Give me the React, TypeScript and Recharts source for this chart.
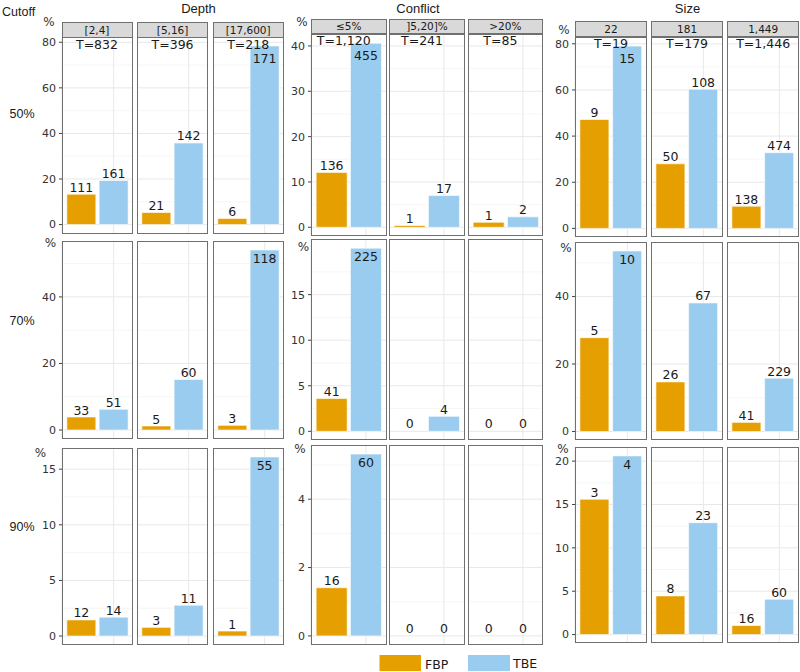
import React from 'react';
import { BarChart, Bar, XAxis, YAxis, CartesianGrid, Cell, LabelList } from 'recharts';

// ---------- data ----------
const methods = ['FBP', 'TBE'];
const cutoffs = ['50%', '70%', '90%'];

const depthFacets = ['[2,4]', '[5,16]', '[17,600]'];
const depthTotals = ['T=832', 'T=396', 'T=218'];
const depthFbpPct = [[13.3, 5.3, 2.7], [3.9, 1.2, 1.4], [1.45, 0.78, 0.45]];
const depthTbePct = [[19.35, 35.8, 78.4], [6.2, 15.2, 54.1], [1.7, 2.77, 16.1]];
const depthFbpN = [[111, 21, 6], [33, 5, 3], [12, 3, 1]];
const depthTbeN = [[161, 142, 171], [51, 60, 118], [14, 11, 55]];
const depthTicks = [[0, 20, 40, 60, 80], [0, 20, 40], [0, 5, 10, 15]];

const conflictFacets = ['≤5%', ']5,20]%', '>20%'];
const conflictTotals = ['T=1,120', 'T=241', 'T=85'];
const conflictFbpPct = [[12.1, 0.41, 1.1], [3.6, 0, 0], [1.41, 0, 0]];
const conflictTbePct = [[40.6, 7.0, 2.3], [20.1, 1.65, 0], [5.32, 0, 0]];
const conflictFbpN = [[136, 1, 1], [41, 0, 0], [16, 0, 0]];
const conflictTbeN = [[455, 17, 2], [225, 4, 0], [60, 0, 0]];
const conflictTicks = [[0, 10, 20, 30, 40], [0, 5, 10, 15], [0, 2, 4]];

const sizeFacets = ['22', '181', '1,449'];
const sizeTotals = ['T=19', 'T=179', 'T=1,446'];
const sizeFbpPct = [[47.2, 28.0, 9.6], [27.8, 14.7, 2.7], [15.6, 4.46, 1.04]];
const sizeTbePct = [[79.0, 60.3, 32.8], [53.5, 38.1, 15.8], [20.6, 12.9, 4.07]];
const sizeFbpN = [[9, 50, 138], [5, 26, 41], [3, 8, 16]];
const sizeTbeN = [[15, 108, 474], [10, 67, 229], [4, 23, 60]];
const sizeTicks = [[0, 20, 40, 60, 80], [0, 20, 40], [0, 5, 10, 15, 20]];

const groups = [
  { title: 'Depth', facets: depthFacets, totals: depthTotals, fbpPct: depthFbpPct, tbePct: depthTbePct, fbpN: depthFbpN, tbeN: depthTbeN, ticks: depthTicks },
  { title: 'Conflict', facets: conflictFacets, totals: conflictTotals, fbpPct: conflictFbpPct, tbePct: conflictTbePct, fbpN: conflictFbpN, tbeN: conflictTbeN, ticks: conflictTicks },
  { title: 'Size', facets: sizeFacets, totals: sizeTotals, fbpPct: sizeFbpPct, tbePct: sizeTbePct, fbpN: sizeFbpN, tbeN: sizeTbeN, ticks: sizeTicks },
];

// ---------- layout / style ----------
const FBP_COLOR = '#E69F00';
const TBE_COLOR = '#99CCEE';
const colors: Record<string, string> = { FBP: FBP_COLOR, TBE: TBE_COLOR };
const SANS = '"DejaVu Sans", sans-serif';
const TITLE = '"Liberation Sans", Arial, sans-serif';

const layouts = [
  { left: 61.5, step: 75.6, width: 71, strip: [21.7, 37], rows: [[37, 233.5], [241, 439], [448, 645]], pct: [[49, 21], [50.5, 242], [40.5, 452]], titleX: 198.5, tShift: 0 },
  { left: 311, step: 78.3, width: 75.5, strip: [19.3, 33.5], rows: [[33.5, 236], [238.5, 440], [445, 645]], pct: [[302, 21], [303.5, 246.7], [300, 448]], titleX: 418, tShift: -5 },
  { left: 575, step: 76.1, width: 72, strip: [21.3, 36.5], rows: [[36.5, 237], [241.5, 440], [446.5, 643]], pct: [[564, 29], [566, 247], [563, 448]], titleX: 687.5, tShift: 0 },
];

const AXIS_W = 40;

function minorOf(ticks: number[], top: number) {
  const out: number[] = [];
  const d = ticks[1] - ticks[0];
  for (let i = 0; i < ticks.length; i++) {
    const m = ticks[i] + d / 2;
    if (m < top) out.push(m);
  }
  return out;
}

function Panel(props: any) {
  const { left, top, width, height, fbp, tbe, fbpN, tbeN, max, ticks, showAxis, total, row, tShift } = props;
  const data = [
    { m: methods[0], v: fbp, n: fbpN },
    { m: methods[1], v: tbe, n: tbeN },
  ];
  const domain = [-0.05 * max, 1.05 * max];
  const minor = minorOf(ticks, domain[1]);
  const axisW = showAxis ? AXIS_W : 0;
  const pad = width * 0.2 / 2.2 / 2;
  const insideY = row === 0 ? 26 : 22;
  const renderLabel = (p: any) => {
    const vb = p.viewBox && p.viewBox.width !== undefined ? p.viewBox : p;
    const idx = p.index;
    const d = data[idx];
    if (!d) return null;
    const x = vb.x + vb.width / 2;
    const h = vb.height || 0;
    const yTop = h >= 0 ? vb.y : vb.y + h;
    const inside = d.v >= 0.95 * max;
    const y = inside ? insideY : yTop - 2.5;
    return (
      <text key={'l' + idx} x={x} y={y} textAnchor="middle" fontSize={12.5} fontFamily={SANS} fill="#1a1a1a">
        {d.n}
      </text>
    );
  };
  return (
    <>
      <div style={{ position: 'absolute', left: left - axisW, top, width: width + axisW, height }}>
        <BarChart width={width + axisW} height={height} data={data} margin={{ top: 0, right: 0, bottom: 0, left: 0 }} barCategoryGap="5%">
          <CartesianGrid horizontalValues={minor} vertical={false} stroke="#f0f0f0" strokeWidth={0.6} />
          <CartesianGrid horizontalValues={ticks} stroke="#e8e8e8" strokeWidth={1} />
          <XAxis dataKey="m" type="category" hide padding={{ left: pad, right: pad }} />
          <YAxis
            type="number"
            domain={domain}
            ticks={ticks}
            allowDataOverflow
            interval={0}
            hide={!showAxis}
            width={axisW}
            axisLine={false}
            tickSize={3}
            tickMargin={3}
            tickLine={{ stroke: '#444' }}
            tick={{ fill: '#333', fontSize: 11, fontFamily: SANS }}
          />
          <Bar dataKey="v" isAnimationActive={false} stroke="#ffffff" strokeWidth={0.6} minPointSize={0.5}>
            {data.map((d) => (
              <Cell key={d.m} fill={d.v === 0 ? 'none' : colors[d.m]} stroke={d.v === 0 ? 'none' : '#ffffff'} />
            ))}
            <LabelList dataKey="n" content={renderLabel} />
          </Bar>
        </BarChart>
      </div>
      <div style={{ position: 'absolute', left, top, width, height, border: '1px solid #707070', boxSizing: 'border-box', pointerEvents: 'none' }} />
      {total ? (
        <div style={{ position: 'absolute', left: left + tShift, top: top + 0.5, width, textAlign: 'center', fontFamily: SANS, fontSize: 12.5, lineHeight: '14px', color: '#1a1a1a', whiteSpace: 'nowrap' }}>
          {total}
        </div>
      ) : null}
    </>
  );
}

export default function App() {
  return (
    <div style={{ position: 'absolute', left: 0, top: 0, width: 800, height: 672, background: '#fff', overflow: 'hidden', fontFamily: SANS }}>
      {groups.map((g, gi) => {
        const L = layouts[gi];
        return (
          <React.Fragment key={g.title}>
            {g.facets.map((f, fi) => (
              <div
                key={'s' + fi}
                style={{
                  position: 'absolute',
                  left: L.left + fi * L.step,
                  top: L.strip[0],
                  width: L.width,
                  height: L.strip[1] - L.strip[0] + 1,
                  background: '#d9d9d9',
                  border: '1px solid #707070',
                  boxSizing: 'border-box',
                  fontSize: 10.5,
                  lineHeight: `${L.strip[1] - L.strip[0] - 1}px`,
                  textAlign: 'center',
                  color: '#1a1a1a',
                  whiteSpace: 'nowrap',
                }}
              >
                {f}
              </div>
            ))}
            {cutoffs.map((c, ri) => {
              const [t, b] = L.rows[ri];
              const max = Math.max(...g.fbpPct[ri], ...g.tbePct[ri]);
              return g.facets.map((f, fi) => (
                <Panel
                  key={c + f}
                  left={L.left + fi * L.step}
                  top={t}
                  width={L.width}
                  height={b - t}
                  fbp={g.fbpPct[ri][fi]}
                  tbe={g.tbePct[ri][fi]}
                  fbpN={g.fbpN[ri][fi]}
                  tbeN={g.tbeN[ri][fi]}
                  max={max}
                  ticks={g.ticks[ri]}
                  showAxis={fi === 0}
                  total={ri === 0 ? g.totals[fi] : null}
                  row={ri}
                  tShift={L.tShift}
                />
              ));
            })}
          </React.Fragment>
        );
      })}
      <svg width={800} height={672} style={{ position: 'absolute', left: 0, top: 0, pointerEvents: 'none' }}>
        <text x={2} y={16} fontFamily={TITLE} fontSize={12.5} fill="#1a1a1a">Cutoff</text>
        {groups.map((g, gi) => (
          <text key={g.title} x={layouts[gi].titleX} y={12.5} textAnchor="middle" fontFamily={TITLE} fontSize={13} fill="#1a1a1a">
            {g.title}
          </text>
        ))}
        {cutoffs.map((c, ri) => (
          <text key={c} x={22} y={[117.5, 324.5, 530.5][ri]} textAnchor="middle" fontFamily={TITLE} fontSize={12.5} fill="#1a1a1a">
            {c}
          </text>
        ))}
        {layouts.map((L, gi) =>
          L.pct.map((p, ri) => (
            <text key={gi + '-' + ri} x={p[0]} y={p[1] + 4.5} textAnchor="middle" fontFamily={SANS} fontSize={12} fill="#333">
              %
            </text>
          ))
        )}
        <rect x={379.5} y={655} width={41.5} height={16} fill={FBP_COLOR} />
        <text x={425} y={669} fontFamily={SANS} fontSize={12.5} fill="#1a1a1a">{methods[0]}</text>
        <rect x={468} y={655} width={42} height={16} fill={TBE_COLOR} />
        <text x={513} y={668} fontFamily={SANS} fontSize={12.5} fill="#1a1a1a">{methods[1]}</text>
      </svg>
    </div>
  );
}
